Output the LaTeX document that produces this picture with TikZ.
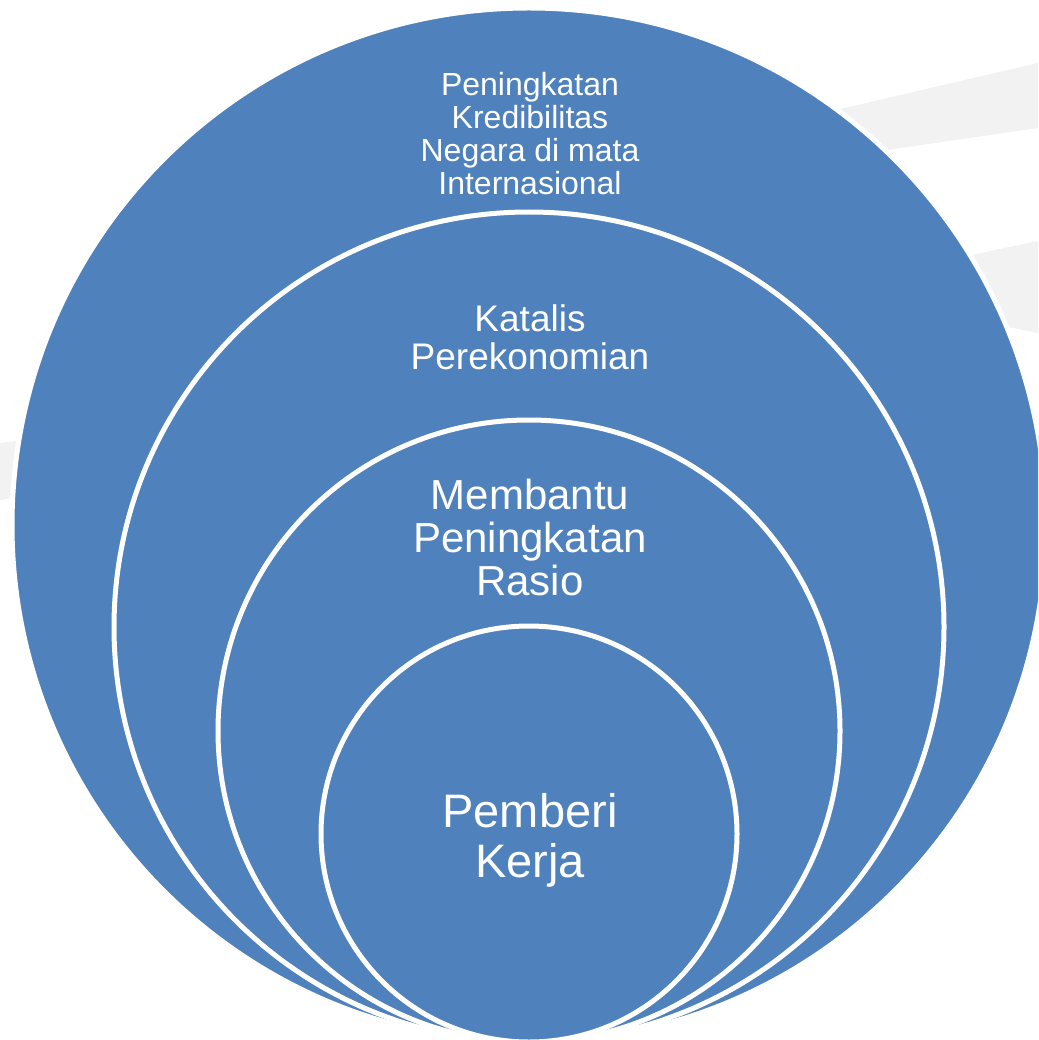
\documentclass[tikz,border=0pt]{standalone}
\usepackage{fontspec}
\setmainfont{Liberation Sans}
\usetikzlibrary{positioning}
\definecolor{ringblue}{HTML}{4F81BD}
\definecolor{swoosh}{HTML}{F2F2F2}

\begin{document}
\begin{tikzpicture}[x=1pt, y=-1pt,
  ring/.style={circle, draw=white, line width=5pt, fill=ringblue, inner sep=0pt},
  lbl/.style={text=white, align=center, inner sep=0pt},
  band/.style={fill=swoosh, draw=none}
]
  \useasboundingbox (0,0) rectangle (1038,1040);
  \clip (0,0) rectangle (1038,1040);

  % faint background bands
  \fill[band] (750,130) -- (1038,63) -- (1038,128) -- (750,170) -- cycle;
  \fill[band] (900,270) -- (1038,241) -- (1038,333) -- (900,305) -- cycle;
  \fill[band] (0,443) -- (60,435) -- (60,490) -- (0,500) -- cycle;

  % stacked circles, all resting on the bottom
  \node[ring, minimum size=1034pt] (outer) at (529,525) {};
  \node[ring, minimum size=830pt] (second) at (529,627) {};
  \node[ring, minimum size=622pt] (third) at (529,731) {};
  \node[ring, minimum size=416pt] (inner) at (529,834) {};

  \node[lbl, font=\fontsize{32}{33}\selectfont] (credit) at (530,134)
    {Peningkatan\\Kredibilitas\\Negara di mata\\Internasional};
  \node[lbl, font=\fontsize{37}{38}\selectfont] (catalyst) at (530,337)
    {Katalis\\Perekonomian};
  \node[lbl, font=\fontsize{42}{43}\selectfont] (ratio) at (530,537)
    {Membantu\\Peningkatan\\Rasio};
  \node[lbl, font=\fontsize{47}{50}\selectfont] (work) at (530,840)
    {Pemberi\\Kerja};
\end{tikzpicture}
\end{document}
